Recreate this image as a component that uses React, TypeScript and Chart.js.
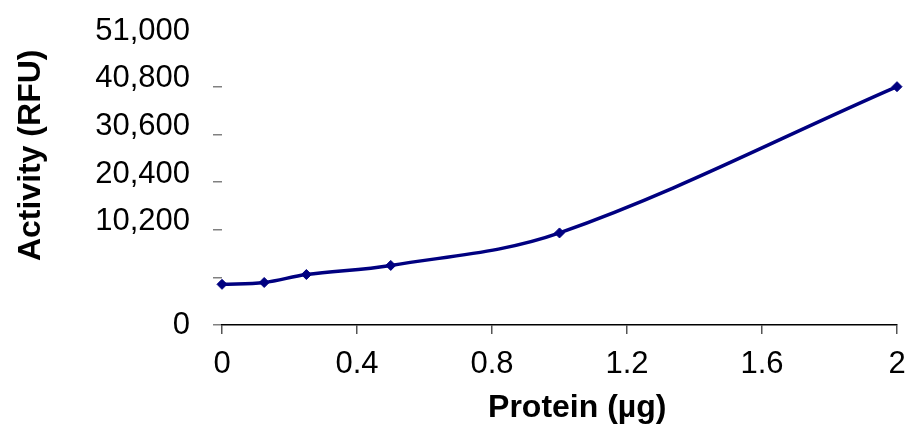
import React, { useEffect, useRef } from "react";
import { Chart, registerables } from "chart.js";

Chart.register(...registerables);

const proteinUg = [0, 0.125, 0.25, 0.5, 1, 2];
const activityRfu = [8700, 9100, 10800, 12750, 19700, 51000];
const xTickLabels = ["0", "0.4", "0.8", "1.2", "1.6", "2"];
const yTickLabels = ["0", "", "10,200", "20,400", "30,600", "40,800", "51,000"];
const yStep = 10200;
const yMax = 61200;

export default function App() {
  const ref = useRef<HTMLCanvasElement | null>(null);

  useEffect(() => {
    if (!ref.current) return;
    const font = "'Liberation Sans', Arial, sans-serif";
    const chart = new Chart(ref.current, {
      type: "line",
      data: {
        datasets: [
          {
            data: proteinUg.map((x, i) => ({ x, y: activityRfu[i] })),
            borderColor: "#000080",
            backgroundColor: "#000080",
            borderWidth: 3.5,
            tension: 0.35,
            pointStyle: "rectRot",
            pointRadius: 5,
            pointBorderWidth: 1,
            pointBackgroundColor: "#000080",
            pointBorderColor: "#000080",
            clip: false,
          },
        ],
      },
      options: {
        animation: false,
        responsive: true,
        maintainAspectRatio: false,
        layout: { padding: { top: 38, right: 1, left: 0, bottom: 0 } },
        plugins: { legend: { display: false }, tooltip: { enabled: false } },
        scales: {
          x: {
            type: "linear",
            min: 0,
            max: 2,
            afterFit: (s: any) => {
              s.height = 107;
              s.paddingRight = 11;
              s.paddingLeft = 0;
            },
            border: { display: true, color: "#000000", width: 1.5 },
            grid: {
              drawOnChartArea: false,
              drawTicks: true,
              tickLength: 9,
              color: "#555555",
              lineWidth: 1.5,
            },
            ticks: {
              stepSize: 0.4,
              padding: 12,
              color: "#000000",
              maxRotation: 0,
              font: { family: font, size: 31 },
              callback: (_v: any, i: number) => xTickLabels[i] ?? "",
            },
            title: {
              display: true,
              text: "    Protein (µg)",
              color: "#000000",
              font: { family: font, size: 32, weight: "bold" },
              padding: { top: 0, bottom: 5 },
            },
          },
          y: {
            type: "linear",
            min: 0,
            max: yMax,
            afterFit: (s: any) => {
              s.width = 222;
            },
            border: { display: false },
            grid: {
              drawOnChartArea: false,
              drawTicks: true,
              tickLength: 9,
              lineWidth: 1.5,
              color: (ctx: any) => (ctx.index === yTickLabels.length - 1 ? "rgba(0,0,0,0)" : "#808080"),
            },
            ticks: {
              stepSize: yStep,
              padding: 23,
              color: "#000000",
              font: { family: font, size: 31, lineHeight: "16px" },
              callback: (_v: any, i: number) => {
                const t = yTickLabels[i] ?? "";
                if (i === 0) return t;
                if (t === "") return "";
                return [t, ""];
              },
            },
            title: {
              display: true,
              text: "      Activity (RFU)",
              color: "#000000",
              font: { family: font, size: 32, weight: "bold" },
              padding: { top: 12, bottom: 0 },
            },
          },
        },
      },
    });
    return () => chart.destroy();
  }, []);

  return (
    <div style={{ position: "fixed", left: 0, top: 0, width: 908, height: 432, background: "#ffffff" }}>
      <canvas ref={ref} />
    </div>
  );
}
